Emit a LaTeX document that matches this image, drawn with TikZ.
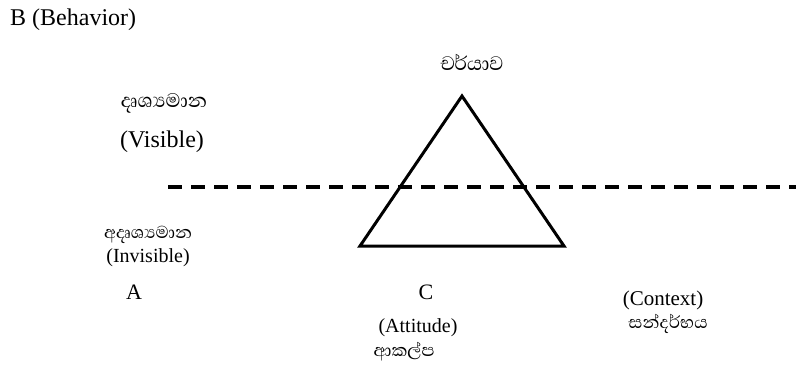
\documentclass[tikz,border=0pt]{standalone}
\usepackage{fontspec}
\setmainfont{Liberation Serif}
\newfontfamily\sinhala[Script=Sinhala]{Abhaya Libre}
\usepackage{tikz}
\usetikzlibrary{calc}

\tikzset{
  lbl/.style={inner sep=0pt, font=\fontsize{20}{24}\selectfont},
  sinlbl/.style={inner sep=0pt, font=\fontsize{22}{26}\selectfont\sinhala},
}

\begin{document}
\begin{tikzpicture}[x=1pt, y=-1pt]
  \useasboundingbox (0,0) rectangle (796,367);
  % triangle corners and the dividing line
  \coordinate (tA) at (462,96);
  \coordinate (tL) at (360,246);
  \coordinate (tR) at (564,246);
  \coordinate (dL) at (168,187);
  \coordinate (dR) at (796,187);
  \draw[line width=3pt, line join=miter] (tA) -- (tL) -- (tR) -- cycle;
  \draw[line width=3.5pt, dash pattern=on 14pt off 9pt] (dL) -- (dR);
  % labels
  \node[lbl, anchor=west, font=\fontsize{24}{28}\selectfont] (behav) at (10,20) {B (Behavior)};
  \node[sinlbl, font=\fontsize{25}{28}\selectfont\sinhala] (charya) at (472,62) {චර්යාව};
  \node[sinlbl, font=\fontsize{25}{28}\selectfont\sinhala] (drusya) at (164,103) {දෘශ්^^^^200dයමාන};
  \node[lbl, font=\fontsize{24}{28}\selectfont] (visib) at (162,142) {(Visible)};
  \node[sinlbl] (adrusya) at (148,235) {අදෘශ්^^^^200dයමාන};
  \node[lbl] (invis) at (148,258) {(Invisible)};
  \node[lbl, font=\fontsize{22}{26}\selectfont] (nA) at (134,292) {A};
  \node[lbl, font=\fontsize{22}{26}\selectfont] (nC) at (426,292) {C};
  \node[lbl, font=\fontsize{20}{24}\selectfont] (attit) at (418,328) {(Attitude)};
  \node[sinlbl] (akalpa) at (404,352) {ආකල්ප};
  \node[lbl, font=\fontsize{21}{25}\selectfont] (contx) at (663,300) {(Context)};
  \node[sinlbl] (sandar) at (668,324) {සන්දර්භය};
\end{tikzpicture}
\end{document}
